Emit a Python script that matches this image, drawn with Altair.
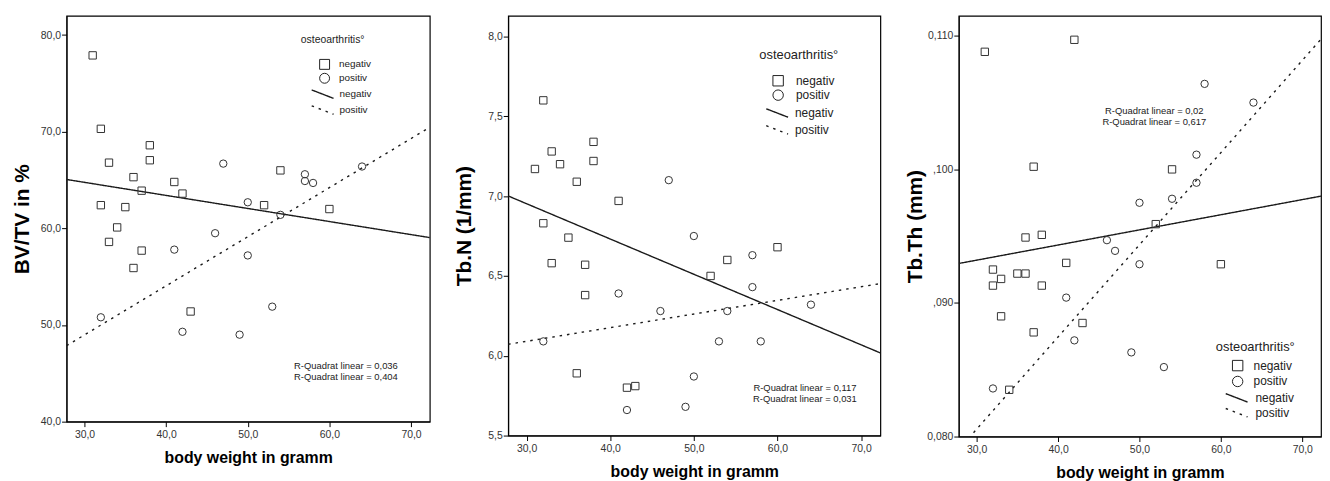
import altair as alt
import pandas as pd

# ---------------- data ----------------
groups = ["negativ", "positiv"]
neg_bw = [31, 32, 32, 33, 33, 34, 35, 36, 36, 37, 37, 38, 38, 41, 42, 43, 52, 54, 60]
pos_bw = [32, 41, 42, 46, 47, 49, 50, 50, 53, 54, 57, 57, 58, 64]

bvtv_neg = [77.9, 70.3, 62.4, 66.8, 58.6, 60.1, 62.2, 65.3, 55.9, 63.9, 57.7, 68.6, 67.05,
            64.8, 63.6, 51.4, 62.4, 66.0, 62.0]
bvtv_pos = [50.8, 57.8, 49.3, 59.5, 66.7, 49.0, 62.7, 57.2, 51.9, 61.4, 65.6, 64.9, 64.7, 66.4]

tbn_neg = [7.17, 7.60, 6.83, 7.28, 6.58, 7.20, 6.74, 7.09, 5.89, 6.57, 6.38, 7.34, 7.22,
           6.97, 5.80, 5.81, 6.50, 6.60, 6.68]
tbn_pos = [6.09, 6.39, 5.66, 6.28, 7.10, 5.68, 6.75, 5.87, 6.09, 6.28, 6.63, 6.43, 6.09, 6.32]

tbth_neg = [0.1088, 0.0925, 0.0913, 0.0918, 0.0890, 0.0835, 0.0922, 0.0949, 0.0922, 0.1002,
            0.0878, 0.0951, 0.0913, 0.0930, 0.1097, 0.0885, 0.0959, 0.1000, 0.0929]
tbth_pos = [0.0836, 0.0904, 0.0872, 0.0947, 0.0939, 0.0863, 0.0975, 0.0929, 0.0852, 0.0978,
            0.1011, 0.0990, 0.1064, 0.1050]

x_title = "body weight in gramm"
x_domain = [27.8, 72.3]
x_ticks = [30, 40, 50, 60, 70]
x_labels = ["30,0", "40,0", "50,0", "60,0", "70,0"]

y1_title = "BV/TV in %"
y1_domain = [40, 82]
y1_ticks = [40, 50, 60, 70, 80]
y1_labels = ["40,0", "50,0", "60,0", "70,0", "80,0"]

y2_title = "Tb.N (1/mm)"
y2_domain = [5.5, 8.13]
y2_ticks = [5.5, 6.0, 6.5, 7.0, 7.5, 8.0]
y2_labels = ["5,5", "6,0", "6,5", "7,0", "7,5", "8,0"]

y3_title = "Tb.Th (mm)"
y3_domain = [0.080, 0.1115]
y3_ticks = [0.080, 0.090, 0.100, 0.110]
y3_labels = ["0,080", ",090", ",100", "0,110"]

legend_title = "osteoarthritis°"
r2_1 = ["R-Quadrat linear = 0,036", "R-Quadrat linear = 0,404"]
r2_2 = ["R-Quadrat linear = 0,117", "R-Quadrat linear = 0,031"]
r2_3 = ["R-Quadrat linear = 0,02", "R-Quadrat linear = 0,617"]

FONT = "Liberation Sans"
INK = "#222222"


def label_expr(ticks, labels):
    parts = [f"abs(datum.value - ({t})) < 1e-7 ? '{l}'" for t, l in zip(ticks, labels)]
    return " : ".join(parts) + " : ''"


def text_layer(txt, x, y, size, align="left"):
    return alt.Chart(alt.Data(values=[{"k": 1}])).mark_text(
        text=txt, align=align, baseline="middle", font=FONT, fontSize=size, color=INK
    ).encode(x=alt.value(x), y=alt.value(y))


def panel(yneg, ypos, ytitle, ydom, yticks, ylabels, w, h, lg, r2, r2pos):
    df = pd.DataFrame({
        "bw": neg_bw + pos_bw,
        "val": yneg + ypos,
        "grp": [groups[0]] * len(neg_bw) + [groups[1]] * len(pos_bw),
    })
    base = alt.Chart(df)
    xenc = alt.X(
        "bw:Q",
        scale=alt.Scale(domain=x_domain, nice=False, zero=False),
        axis=alt.Axis(
            values=x_ticks, labelExpr=label_expr(x_ticks, x_labels), title=x_title,
            grid=False, tickSize=5, tickColor="black", domainColor="black",
            labelFont=FONT, labelFontSize=10.5, labelColor="#333333", labelPadding=3,
            titleFont=FONT, titleFontSize=16, titleFontWeight="bold", titleColor="black",
            titleY=36, titleBaseline="middle",
        ),
    )
    yenc = alt.Y(
        "val:Q",
        scale=alt.Scale(domain=ydom, nice=False, zero=False),
        axis=alt.Axis(
            values=yticks, labelExpr=label_expr(yticks, ylabels), title=ytitle,
            grid=False, tickSize=5, tickColor="black", domainColor="black",
            labelFont=FONT, labelFontSize=10.5, labelColor="#333333", labelPadding=1,
            titleFont=FONT, titleFontSize=21, titleFontWeight="bold", titleColor="black",
            titleX=-44, titleY=h / 2, titleBaseline="middle",
        ),
    )
    pts = base.mark_point(filled=False, size=55, strokeWidth=1, color="#333333", opacity=1).encode(
        x=xenc, y=yenc,
        shape=alt.Shape(
            "grp:N",
            scale=alt.Scale(range=["square", "circle"]),
            legend=alt.Legend(
                orient="none", legendX=lg["sx"], legendY=lg["sy"], title=None, padding=0,
                symbolSize=lg["ss"], symbolStrokeWidth=1, symbolStrokeColor="#222222",
                symbolFillColor="transparent", rowPadding=lg["rp"], labelOffset=lg["so"],
                labelFont=FONT, labelFontSize=lg["fs"], labelColor=INK,
            ),
        ),
    )
    fit = base.transform_regression(
        "bw", "val", groupby=["grp"], extent=x_domain
    ).transform_calculate(fitgrp="datum.grp").mark_line(
        clip=True, color="#1a1a1a", strokeWidth=1.4
    ).encode(
        x=alt.X("bw:Q"), y=alt.Y("val:Q"),
        strokeDash=alt.StrokeDash(
            "fitgrp:N",
            scale=alt.Scale(range=[[1, 0], [2.5, 5]]),
            legend=alt.Legend(
                orient="none", legendX=lg["dx"], legendY=lg["dy"], title=None, padding=0,
                symbolType="M-2.2,-0.85L2.2,0.85", symbolSize=100, symbolStrokeWidth=1.4,
                symbolStrokeColor="#1a1a1a", rowPadding=lg["drp"], labelOffset=lg["do"],
                labelFont=FONT, labelFontSize=lg["fs"], labelColor=INK,
            ),
        ),
    )
    layers = [fit, pts,
              text_layer(legend_title, lg["tx"], lg["ty"], lg["tfs"]),
              text_layer(r2[0], r2pos[0], r2pos[1], 9.5, "center"),
              text_layer(r2[1], r2pos[0], r2pos[1] + 11, 9.5, "center")]
    return alt.layer(*layers).properties(width=w, height=h)


lg1 = dict(sx=254.5, sy=43.5, ss=100, rp=-1, so=9, fs=10,
           dx=252, dy=73, drp=0, do=11, tx=236, ty=24, tfs=10.5)
lg2 = dict(sx=266, sy=59.5, ss=110, rp=-1.5, so=12, fs=12,
           dx=265, dy=92, drp=1, do=12, tx=253, ty=40, tfs=13)
lg3 = dict(sx=275, sy=346.5, ss=110, rp=0, so=10, fs=12,
           dx=274, dy=379, drp=-1, do=13, tx=259, ty=334, tfs=13)

p1 = panel(bvtv_neg, bvtv_pos, y1_title, y1_domain, y1_ticks, y1_labels, 366, 409, lg1, r2_1, (281.5, 353))
p2 = panel(tbn_neg, tbn_pos, y2_title, y2_domain, y2_ticks, y2_labels, 375, 423, lg2, r2_2, (299, 375))
p3 = panel(tbth_neg, tbth_pos, y3_title, y3_domain, y3_ticks, y3_labels, 365, 424, lg3, r2_3, (197, 96))

chart = alt.hconcat(p1, p2, p3, spacing=79, bounds="flush").resolve_scale(
    shape="independent", strokeDash="independent", x="independent", y="independent"
).resolve_legend(shape="independent", strokeDash="independent").properties(
    padding={"left": 3, "top": 5, "right": 0, "bottom": 0}
).configure_view(stroke="black", strokeWidth=1.2)

chart.save("out.html", embed_options={"renderer": "svg", "actions": False})
